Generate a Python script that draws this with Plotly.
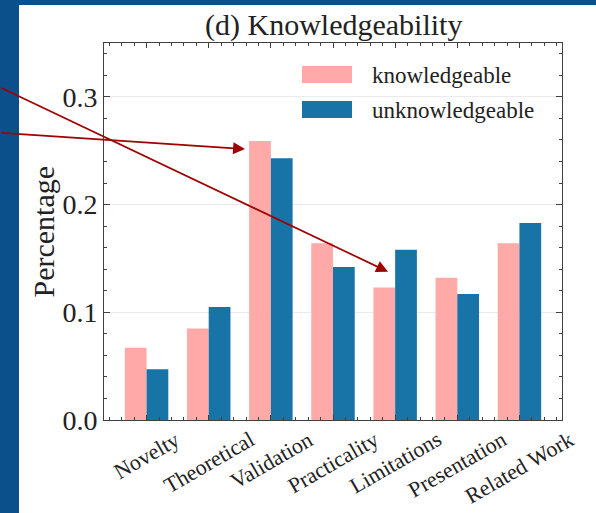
import plotly.graph_objects as go

# ---- data ----
categories = ["Novelty", "Theoretical", "Validation", "Practicality",
              "Limitations", "Presentation", "Related Work"]
knowledgeable = [0.067, 0.085, 0.259, 0.164, 0.123, 0.132, 0.164]
unknowledgeable = [0.047, 0.105, 0.243, 0.142, 0.158, 0.117, 0.183]
series_names = ["knowledgeable", "unknowledgeable"]
y_tick_values = [0.0, 0.1, 0.2, 0.3]
title_text = "(d) Knowledgeability"
y_title = "Percentage"

# ---- style ----
PINK = "#FFA9A9"
BLUE = "#1874A7"
FRAME_BLUE = "#0B508A"
ARROW_RED = "#A00000"
AXIS_GREY = "#404040"
TEXT = "#222222"
FONT = "Liberation Serif"

W, H = 596, 513
L, R, T, B = 104, 34, 43, 93
PW, PH = W - L - R, H - T - B


def px(x):
    """pixel x -> paper x"""
    return (x - L) / PW


def py(y):
    """pixel y (from top) -> paper y"""
    return (H - B - y) / PH


positions = list(range(len(categories)))

fig = go.Figure()
fig.add_trace(go.Bar(x=positions, y=knowledgeable, name=series_names[0],
                     marker=dict(color=PINK, line=dict(width=0)),
                     showlegend=False))
fig.add_trace(go.Bar(x=positions, y=unknowledgeable, name=series_names[1],
                     marker=dict(color=BLUE, line=dict(width=0)),
                     showlegend=False))

shapes = [
    # white panel over the blue frame
    dict(type="rect", xref="paper", yref="paper", x0=px(19), x1=px(W + 2),
         y0=py(H + 2), y1=py(5), fillcolor="white", line=dict(width=0),
         layer="below"),
]

annotations = []

# category labels, rotated and centred under each group
for i, cat in enumerate(categories):
    annotations.append(dict(x=i, xref="x", y=py(424), yref="paper",
                            text=cat, showarrow=False, textangle=-30,
                            xanchor="center", yanchor="top",
                            font=dict(family=FONT, size=22, color=TEXT)))

# y-axis title
annotations.append(dict(x=px(43), y=0.5, xref="paper", yref="paper",
                        text=y_title, showarrow=False, textangle=-90,
                        xanchor="center", yanchor="middle",
                        font=dict(family=FONT, size=30, color=TEXT)))

# title
annotations.append(dict(x=0.5, y=py(44), xref="paper", yref="paper",
                        text=title_text, showarrow=False,
                        xanchor="center", yanchor="bottom",
                        font=dict(family=FONT, size=30, color=TEXT)))

# legend
for name, color, ytop in [(series_names[0], PINK, 66), (series_names[1], BLUE, 101)]:
    shapes.append(dict(type="rect", xref="paper", yref="paper",
                       x0=px(302), x1=px(352), y0=py(ytop + 17), y1=py(ytop),
                       fillcolor=color, line=dict(width=0)))
    annotations.append(dict(x=px(370), y=py(ytop + 9), xref="paper", yref="paper",
                            text=name, showarrow=False, xanchor="left",
                            yanchor="middle",
                            font=dict(family=FONT, size=23, color=TEXT)))

# arrows coming in from the left edge
for (hx, hy), (tx, ty) in [((245, 149), (0, 132.7)), ((388, 271.7), (0, 87.3))]:
    annotations.append(dict(x=px(hx), y=py(hy), xref="paper", yref="paper",
                            ax=tx - hx, ay=ty - hy, axref="pixel", ayref="pixel",
                            text="", showarrow=True, arrowhead=2,
                            arrowsize=1.4, arrowwidth=1.7,
                            arrowcolor=ARROW_RED, standoff=0))

fig.update_layout(
    width=W, height=H,
    margin=dict(l=L, r=R, t=T, b=B, pad=0),
    paper_bgcolor=FRAME_BLUE,
    plot_bgcolor="white",
    barmode="group", bargap=0.3, bargroupgap=0,
    shapes=shapes,
    annotations=annotations,
    showlegend=False,
    xaxis=dict(range=[-0.685, 6.685], tickvals=positions, showticklabels=False,
               ticks="inside", ticklen=5, tickcolor=AXIS_GREY, tickwidth=1,
               minor=dict(ticks="inside", ticklen=3, dtick=0.2, tick0=0,
                          tickcolor=AXIS_GREY, showgrid=False),
               showline=True, linecolor=AXIS_GREY, linewidth=1,
               mirror="allticks", showgrid=False, zeroline=False),
    yaxis=dict(range=[0, 0.35], tickvals=y_tick_values, tickformat=".1f",
               ticks="inside", ticklen=6, tickcolor=AXIS_GREY, tickwidth=1,
               minor=dict(ticks="inside", ticklen=3, dtick=0.02, tick0=0,
                          tickcolor=AXIS_GREY, showgrid=False),
               tickfont=dict(family=FONT, size=28, color=TEXT),
               showline=True, linecolor=AXIS_GREY, linewidth=1,
               mirror="allticks", showgrid=True, gridcolor="#EBEBEB",
               gridwidth=1, zeroline=False),
)

fig.write_html("out.html")
